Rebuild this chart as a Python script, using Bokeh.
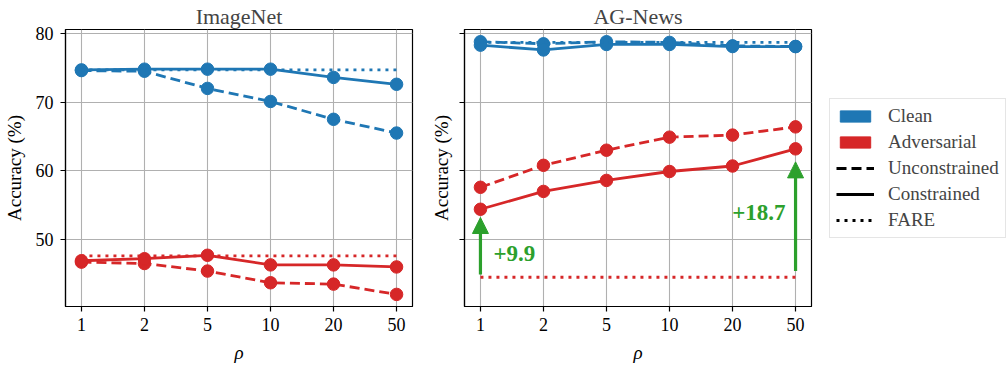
from bokeh.plotting import figure
from bokeh.layouts import row
from bokeh.models import (Range1d, FixedTicker, Legend, LegendItem, ColumnDataSource,
                          Arrow, NormalHead)
from bokeh.core.properties import value
from bokeh.embed import file_html
from bokeh.resources import INLINE

# ---------------- data ----------------
rho_labels = ["1", "2", "5", "10", "20", "50"]
y_ticks = [50, 60, 70, 80]

imagenet_clean_constrained = [74.7, 74.8, 74.8, 74.8, 73.6, 72.6]
imagenet_clean_unconstrained = [74.6, 74.5, 72.0, 70.1, 67.5, 65.5]
imagenet_clean_fare = 74.7
imagenet_adv_constrained = [46.9, 47.2, 47.7, 46.3, 46.3, 46.0]
imagenet_adv_unconstrained = [46.7, 46.5, 45.4, 43.7, 43.5, 42.0]
imagenet_adv_fare = 47.6

agnews_clean_constrained = [78.3, 77.6, 78.4, 78.4, 78.1, 78.1]
agnews_clean_unconstrained = [78.8, 78.5, 78.8, 78.7, 78.2, 78.1]
agnews_clean_fare = 78.7
agnews_adv_constrained = [54.4, 57.0, 58.6, 59.9, 60.7, 63.2]
agnews_adv_unconstrained = [57.6, 60.8, 63.0, 64.9, 65.2, 66.4]
agnews_adv_fare = 44.5

# gain annotations (AG-News): rho index, arrow tail / tip, label
gain_rho = ["1", "50"]
gain_arrow_from = [44.9, 45.4]
gain_arrow_to = [53.2, 61.3]
gain_labels = ["+9.9", "+18.7"]
gain_label_y = [48.0, 53.9]

legend_labels = ["Clean", "Adversarial", "Unconstrained", "Constrained", "FARE"]

# ---------------- style ----------------
BLUE = "#1f77b4"
RED = "#d62728"
GREEN = "#2ca02c"
GRID = "#b0b0b0"
FONT = "Liberation Serif"
LW = 2.8
DASH = "10 5"
DOT = "3 5"
MS = 12.5
NAN = float("nan")

xs = list(range(len(rho_labels)))
x_of = {lab: i for i, lab in enumerate(rho_labels)}


def make_fig(title, show_ylabels, min_left, min_right):
    p = figure(frame_width=347, frame_height=277, output_backend="svg",
               toolbar_location=None, title=title,
               x_range=Range1d(-0.253, 5.253), y_range=Range1d(40.24, 80.58),
               min_border_left=min_left, min_border_right=min_right,
               min_border_top=22, min_border_bottom=52)
    p.title.align = "center"
    p.title.text_font = FONT
    p.title.text_font_size = "22px"
    p.title.text_font_style = "normal"
    p.title.standoff = 2
    p.title.offset = 0
    p.outline_line_color = "black"
    p.outline_line_width = 1.2
    p.outline_line_alpha = 1.0
    for ax in (p.xaxis[0], p.yaxis[0]):
        ax.axis_line_color = "black"
        ax.axis_line_width = 1.2
        ax.major_tick_line_color = "black"
        ax.major_tick_line_width = 1.2
        ax.major_tick_out = 5
        ax.major_tick_in = 0
        ax.minor_tick_line_color = None
        ax.major_label_text_font = FONT
        ax.major_label_text_font_size = "18px"
        ax.major_label_text_color = "black"
        ax.axis_label_text_font = FONT
        ax.axis_label_text_font_size = "19px"
        ax.axis_label_text_font_style = "normal"
        ax.axis_label_text_color = "black"
    p.xaxis.ticker = FixedTicker(ticks=xs)
    p.xaxis.major_label_overrides = {i: lab for i, lab in enumerate(rho_labels)}
    p.xaxis.major_label_standoff = 6
    p.xaxis.axis_label = "ρ"
    p.xaxis.axis_label_text_font_style = "italic"
    p.xaxis.axis_label_standoff = 8
    p.yaxis.ticker = FixedTicker(ticks=y_ticks)
    p.yaxis.axis_label = "Accuracy (%)"
    if show_ylabels:
        p.yaxis.major_label_standoff = 7
        p.yaxis.axis_label_standoff = 8
    else:
        p.yaxis.major_label_overrides = {t: "" for t in y_ticks}
        p.yaxis.major_label_text_font_size = "0px"
        p.yaxis.major_label_standoff = 0
        p.yaxis.axis_label_standoff = 8
    p.grid.grid_line_color = GRID
    p.grid.grid_line_width = 1.1
    p.xgrid.ticker = FixedTicker(ticks=xs)
    p.ygrid.ticker = FixedTicker(ticks=y_ticks)
    p.background_fill_color = "white"
    p.border_fill_color = "white"
    return p


def draw_panel(p, clean_c, clean_u, clean_f, adv_c, adv_u, adv_f):
    for color, cons, unc, fare in ((BLUE, clean_c, clean_u, clean_f),
                                   (RED, adv_c, adv_u, adv_f)):
        p.line(xs, unc, line_color=color, line_width=LW, line_dash=DASH)
        p.scatter(xs, unc, size=MS, fill_color=color, line_color=color)
        p.line(xs, cons, line_color=color, line_width=LW)
        p.scatter(xs, cons, size=MS, fill_color=color, line_color=color)
        p.line(xs, [fare] * len(xs), line_color=color, line_width=LW, line_dash=DOT)


p1 = make_fig("ImageNet", True, 57, 12)
draw_panel(p1, imagenet_clean_constrained, imagenet_clean_unconstrained, imagenet_clean_fare,
           imagenet_adv_constrained, imagenet_adv_unconstrained, imagenet_adv_fare)

p2 = make_fig("AG-News", False, 40, 10)
draw_panel(p2, agnews_clean_constrained, agnews_clean_unconstrained, agnews_clean_fare,
           agnews_adv_constrained, agnews_adv_unconstrained, agnews_adv_fare)

# gain arrows + labels
arrow_src = ColumnDataSource(dict(x=[x_of[r] for r in gain_rho],
                                  y0=gain_arrow_from, y1=gain_arrow_to))
p2.add_layout(Arrow(source=arrow_src, x_start="x", y_start="y0", x_end="x", y_end="y1",
                    line_color=GREEN, line_width=3.2,
                    end=NormalHead(size=16, fill_color=GREEN, line_color=GREEN, line_width=1)))
text_src = ColumnDataSource(dict(x=[x_of[r] for r in gain_rho], y=gain_label_y,
                                 t=gain_labels, align=["left", "right"], dx=[13, -10]))
p2.text(x="x", y="y", text="t", source=text_src, text_align="align", x_offset="dx",
        text_baseline="middle", text_color=GREEN, text_font=value(FONT),
        text_font_style="bold", text_font_size="23px")

# legend in its own (axis-less) figure; proxy renderers carry no visible data
p3 = figure(frame_width=178, frame_height=277, output_backend="svg", toolbar_location=None,
            x_range=Range1d(0, 1), y_range=Range1d(0, 1),
            x_axis_location=None, y_axis_location=None,
            min_border_left=8, min_border_right=0, min_border_top=22, min_border_bottom=52)
p3.outline_line_color = None
p3.grid.visible = False
p3.background_fill_color = "white"
p3.border_fill_color = "white"
r_clean = p3.quad(left=[NAN], right=[NAN], top=[NAN], bottom=[NAN],
                  fill_color=BLUE, line_color=BLUE)
r_adv = p3.quad(left=[NAN], right=[NAN], top=[NAN], bottom=[NAN],
                fill_color=RED, line_color=RED)
r_unc = p3.line([NAN], [NAN], line_color="black", line_width=LW, line_dash=DASH)
r_con = p3.line([NAN], [NAN], line_color="black", line_width=LW)
r_fare = p3.line([NAN], [NAN], line_color="black", line_width=LW, line_dash=DOT)
legend = Legend(items=[LegendItem(label=lab, renderers=[r])
                       for lab, r in zip(legend_labels, [r_clean, r_adv, r_unc, r_con, r_fare])],
                location="left", margin=0, padding=6, spacing=4,
                glyph_width=38, glyph_height=14, label_height=21, label_standoff=14,
                label_text_font=FONT, label_text_font_size="19px",
                border_line_color="#cccccc", border_line_width=1.2,
                background_fill_alpha=0.8)
p3.add_layout(legend, "center")

layout = row(p1, p2, p3)
open("out.html", "w").write(file_html(layout, INLINE))
